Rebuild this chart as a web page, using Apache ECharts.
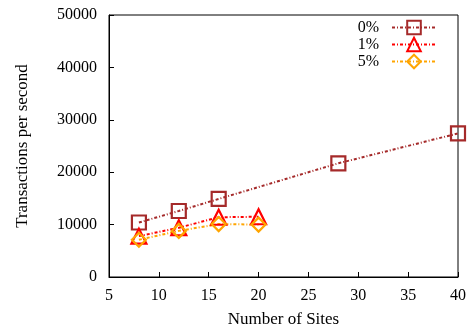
<!DOCTYPE html>
<html>
<head>
<meta charset="utf-8">
<script src="https://cdn.jsdelivr.net/npm/echarts@6/dist/echarts.min.js"></script>
<style>
  html, body { margin: 0; padding: 0; background: #fff; }
  #chart { width: 473px; height: 327px; }
</style>
</head>
<body>
<div id="chart"></div>
<script>
// Throughput vs. number of sites, one series per abort rate
const seriesNames = ['0%', '1%', '5%'];
const sites0 = [8, 12, 16, 28, 40];
const tps0 = [10400, 12600, 14900, 21700, 27400];
const sites1 = [8, 12, 16, 20];
const tps1 = [7800, 9400, 11400, 11500];
const sites5 = [8, 12, 16, 20];
const tps5 = [7100, 8800, 10100, 10000];

const colors = ['#a52a2a', '#ff0000', '#ffa500'];
const symbols = ['rect', 'triangle', 'diamond'];
const dash = [3, 2, 1, 2];
const font = 'Liberation Serif, Times New Roman, serif';

function pairs(xs, ys) { return xs.map((x, i) => [x, ys[i]]); }
const allData = [pairs(sites0, tps0), pairs(sites1, tps1), pairs(sites5, tps5)];

const chart = echarts.init(document.getElementById('chart'), null, { renderer: 'canvas' });
chart.setOption({
  animation: false,
  backgroundColor: '#fff',
  textStyle: { fontFamily: font, color: '#000' },
  grid: {
    left: 109, right: 15, top: 15, bottom: 50,
    outerBoundsMode: 'none', containLabel: false,
    show: true, borderColor: '#000', borderWidth: 1
  },
  legend: {
    data: seriesNames,
    orient: 'vertical',
    right: 31,
    top: 14,
    align: 'right',
    itemWidth: 44,
    itemHeight: 17,
    itemGap: 0,
    textStyle: { fontFamily: font, fontSize: 16, lineHeight: 17, color: '#000', padding: [0, 8, 0, 0] }
  },
  xAxis: {
    type: 'value', min: 5, max: 40, interval: 5,
    name: 'Number of Sites', nameLocation: 'middle', nameGap: 34,
    nameTextStyle: { fontFamily: font, fontSize: 17, color: '#000' },
    axisLine: { lineStyle: { color: '#000', width: 1 } },
    axisTick: { inside: true, length: 5, lineStyle: { color: '#000' } },
    axisLabel: { fontFamily: font, fontSize: 16, color: '#000', margin: 11 },
    splitLine: { show: false }
  },
  yAxis: {
    type: 'value', min: 0, max: 50000, interval: 10000,
    name: 'Transactions per second', nameLocation: 'middle', nameGap: 78,
    nameTextStyle: { fontFamily: font, fontSize: 17, color: '#000' },
    axisLine: { show: true, lineStyle: { color: '#000', width: 1 } },
    axisTick: { show: true, inside: true, length: 5, lineStyle: { color: '#000' } },
    axisLabel: { fontFamily: font, fontSize: 16, color: '#000', margin: 12, formatter: v => String(v) },
    splitLine: { show: false }
  },
  series: seriesNames.map((name, i) => ({
    name: name,
    type: 'line',
    data: allData[i],
    symbol: symbols[i],
    symbolSize: i === 1 ? 15 : 14,
    showAllSymbol: true,
    lineStyle: { color: colors[i], width: 2, type: dash },
    itemStyle: { color: 'rgba(255,255,255,0)', borderColor: colors[i], borderWidth: 2.2 },
    emphasis: { disabled: true }
  }))
});
</script>
</body>
</html>
